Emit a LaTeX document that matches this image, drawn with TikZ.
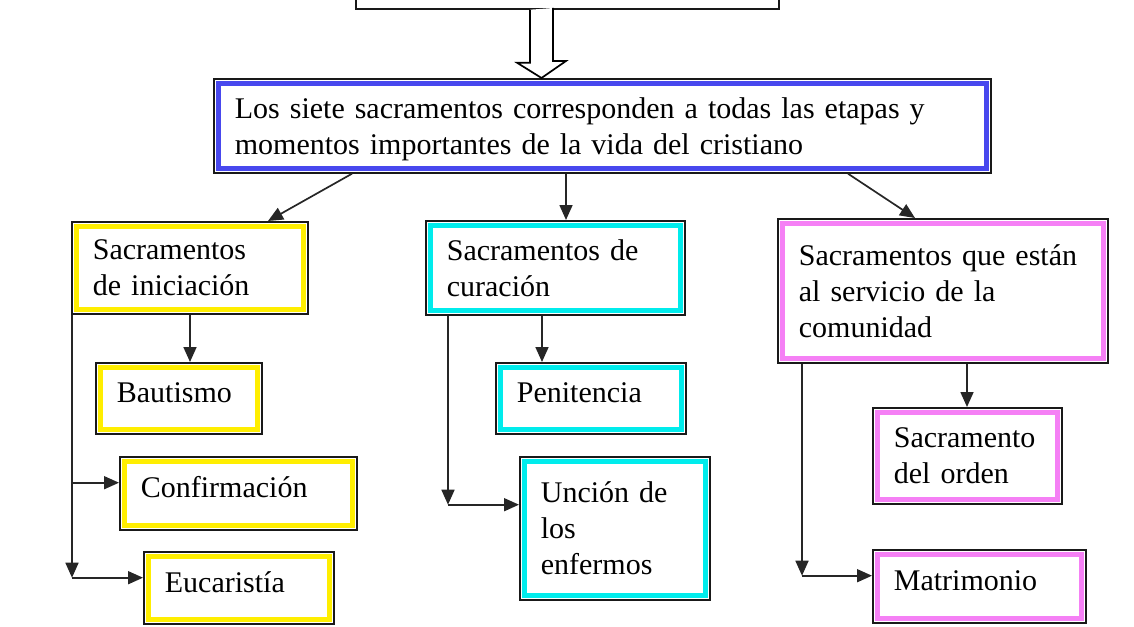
\documentclass[tikz,border=0pt]{standalone}
\usepackage{fontspec}
\setmainfont{Liberation Serif}
\usetikzlibrary{calc,arrows.meta}
\definecolor{bandblue}{RGB}{72,72,238}
\definecolor{bandyellow}{RGB}{255,238,0}
\definecolor{bandcyan}{RGB}{0,236,236}
\definecolor{bandpink}{RGB}{245,128,245}
\tikzset{band/.style={path picture={\draw[#1,line width=2.5pt] ([shift={(2.25pt,-2.25pt)}]path picture bounding box.north west) rectangle ([shift={(-2.25pt,2.25pt)}]path picture bounding box.south east);}}}
\tikzstyle{sbox} = [rectangle, draw=black!90, line width=0.85pt, anchor=north west, align=left, inner xsep=10.5pt, inner ysep=2pt, font=\fontsize{15}{18}\selectfont]
\tikzstyle{bbox} = [sbox, band=bandblue]
\tikzstyle{ybox} = [sbox, band=bandyellow]
\tikzstyle{cbox} = [sbox, band=bandcyan]
\tikzstyle{pbox} = [sbox, band=bandpink]
\tikzstyle{oneline} = [text depth=6pt]
\tikzstyle{hollow} = [line width=0.85pt, fill=white, line join=miter]
\tikzstyle{arrow} = [line width=0.85pt, draw=black!85, -{Triangle[length=7.5pt,width=6.5pt]}]
\begin{document}
\begin{tikzpicture}[x=0.5pt, y=-0.5pt]
	\useasboundingbox (0,0) rectangle (1134,626);
	\node (top) [sbox, text width=190.5pt, minimum height=20pt] at (355,-32) {};

	\node (main) [bbox, text width=367.5pt, minimum height=47pt] at (213,78) {\rule{0pt}{14pt}Los siete sacramentos corresponden a todas las etapas y\\momentos importantes de la vida del cristiano};
	\node (ini) [ybox, text width=97pt, minimum height=46pt] at (71,221) {Sacramentos\\de iniciación};
	\node (cur) [cbox, text width=108.5pt, minimum height=47pt] at (425,220) {Sacramentos de\\curación};
	\node (ser) [pbox, text width=144pt, minimum height=72pt] at (777,218) {Sacramentos que están\\al servicio de la\\comunidad};

	\node (bau) [ybox, oneline, text width=62pt, minimum height=35.5pt] at (95,362) {Bautismo};
	\node (con) [ybox, oneline, text width=97.5pt, minimum height=36.5pt] at (119,456) {Confirmación};
	\node (euc) [ybox, oneline, text width=74pt, minimum height=36pt] at (143,551) {Eucaristía};
	\node (pen) [cbox, oneline, text width=74pt, minimum height=35.5pt] at (495,362) {Penitencia};
	\node (unc) [cbox, text width=74pt, minimum height=71.5pt] at (519,456) {Unción de\\los\\enfermos};
	\node (ord) [pbox, text width=73.5pt, minimum height=48pt] at (872,407) {Sacramento\\del orden};
	\node (mat) [pbox, oneline, text width=85.5pt, minimum height=36.5pt] at (872,549) {Matrimonio};

	% hollow arrow into the main box
	\coordinate (hs) at ($(top.south west)+(186.5,0)$);
	\coordinate (tip) at (hs |- main.north);
	\draw [hollow] (hs) ++(-11.5,0) -- ++(0,53) -- ++(-13,0) -- (tip) -- ++(24.5,-17) -- ++(-13,0) -- ++(0,-53);

	\draw [arrow] ($(main.south west)+(139,0)$) -- ($(ini.north west)+(197,0)$);
	\draw [arrow] ($(main.south west)+(353,0)$) coordinate (c1) -- (c1 |- cur.north);
	\draw [arrow] ($(main.south west)+(635,0)$) -- ($(ser.north west)+(138,0)$);

	\draw [arrow] ($(ini.south west)+(119,0)$) coordinate (c2) -- (c2 |- bau.north);
	\coordinate (iniE) at ($(ini.south west)+(1,263)$);
	\coordinate (iniC) at ($(ini.south west)+(1,168)$);
	\draw [arrow] ($(ini.south west)+(1,0)$) -- (iniE);
	\draw [arrow] (iniE) -- (iniE -| euc.west);
	\draw [arrow] (iniC) -- (iniC -| con.west);

	\draw [arrow] ($(cur.south west)+(117,0)$) coordinate (c3) -- (c3 |- pen.north);
	\coordinate (curU) at ($(cur.south west)+(23,189)$);
	\draw [arrow] ($(cur.south west)+(23,0)$) -- (curU);
	\draw [arrow] (curU) -- (curU -| unc.west);

	\draw [arrow] ($(ser.south west)+(190,0)$) coordinate (c4) -- (c4 |- ord.north);
	\coordinate (serM) at ($(ser.south west)+(25,212)$);
	\draw [arrow] ($(ser.south west)+(25,0)$) -- (serM);
	\draw [arrow] (serM) -- (serM -| mat.west);
\end{tikzpicture}
\end{document}
